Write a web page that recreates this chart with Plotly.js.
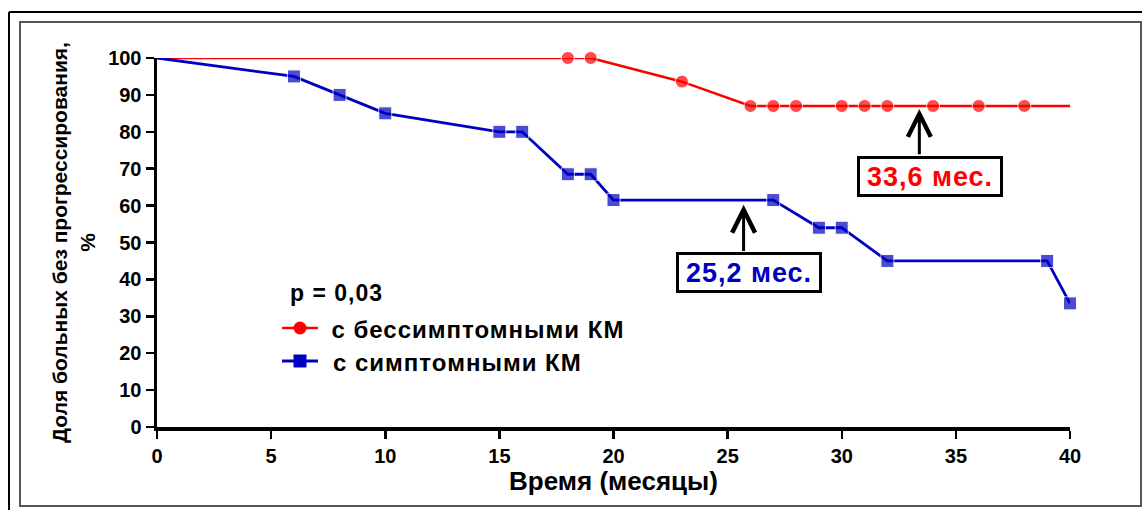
<!DOCTYPE html>
<html>
<head>
<meta charset="utf-8">
<script src="https://cdn.plot.ly/plotly-3.0.1.min.js"></script>
<style>
html,body{margin:0;padding:0;background:#fff;}
#chart{width:1142px;height:510px;}
#chart .annotation-text{letter-spacing:1px;}
</style>
</head>
<body>
<div id="chart"></div>
<script>
// Data
const redX = [0, 18, 19, 23, 26, 27, 28, 30, 31, 32, 34, 36, 38, 40];
const redY = [100, 100, 100, 93.6, 87, 87, 87, 87, 87, 87, 87, 87, 87, 87];
const redMarked = [false, true, true, true, true, true, true, true, true, true, true, true, true, false];
const blueX = [0, 6, 8, 10, 15, 16, 18, 19, 20, 27, 29, 30, 32, 39, 40];
const blueY = [100, 95, 90, 85, 80, 80, 68.5, 68.5, 61.5, 61.5, 54, 54, 45, 45, 33.5];
const blueMarked = [false, true, true, true, true, true, true, true, true, true, true, true, true, true, true];
const seriesNames = ["с бессимптомными КМ", "с симптомными КМ"];
const medianLabels = ["33,6 мес.", "25,2 мес."];
const pText = "p = 0,03";
const xTicks = [0, 5, 10, 15, 20, 25, 30, 35, 40];
const yTicks = [0, 10, 20, 30, 40, 50, 60, 70, 80, 90, 100];

const RED = "#ff0000", BLUE = "#0000c0";
const F = "Liberation Sans, Arial, sans-serif";

function sizes(m, s){ return m.map(v => v ? s : 0); }

const traces = [
  {x: redX, y: redY, name: seriesNames[0], mode: "lines+markers", cliponaxis: false,
   line: {color: RED, width: 2.6}, marker: {symbol: "circle", color: RED, size: sizes(redMarked, 13)}},
  {x: blueX, y: blueY, name: seriesNames[1], mode: "lines+markers", cliponaxis: false,
   line: {color: BLUE, width: 2.8}, marker: {symbol: "square", color: BLUE, size: sizes(blueMarked, 13)}}
];

const px = v => (v - 157) / 913;   // pixel x -> paper
const py = v => (427 - v) / 369;   // pixel y -> paper

const layout = {
  width: 1142, height: 510,
  margin: {l: 157, r: 72, t: 58, b: 83},
  paper_bgcolor: "#fff", plot_bgcolor: "#fff",
  showlegend: false,
  xaxis: {range: [0, 40], tickvals: xTicks, ticks: "outside", ticklen: 8, tickwidth: 2.5, tickcolor: "#000",
    showline: true, linecolor: "#000", linewidth: 3.5, showgrid: false, zeroline: false,
    tickfont: {family: F, size: 20, color: "#000", weight: "bold"},
    title: {text: "<b>Время (месяцы)</b>", font: {family: F, size: 26, color: "#000"}, standoff: 3}},
  yaxis: {range: [0, 100], tickvals: yTicks, ticks: "outside", ticklen: 8, tickwidth: 2.5, tickcolor: "#000",
    showline: true, linecolor: "#000", linewidth: 3.5, showgrid: false, zeroline: false,
    tickfont: {family: F, size: 20, color: "#000", weight: "bold"},
    title: {text: "<b>Доля больных без прогрессирования,<br>%</b>", font: {family: F, size: 21, color: "#000"}, standoff: 8}},
  shapes: [
    {type: "line", xref: "paper", yref: "paper", x0: px(9), x1: px(1150), y0: py(12), y1: py(12), line: {color: "#000", width: 2}},
    {type: "line", xref: "paper", yref: "paper", x0: px(9), x1: px(9), y0: py(12), y1: py(515), line: {color: "#000", width: 2}},
    {type: "rect", xref: "paper", yref: "paper", x0: px(20), x1: px(1141), y0: py(22), y1: py(506), line: {color: "#555", width: 2}},
    // legend samples
    {type: "line", xref: "paper", yref: "paper", x0: px(282), x1: px(318), y0: py(328), y1: py(328), line: {color: RED, width: 2.6}},
    {type: "circle", xref: "paper", yref: "paper", x0: px(293.5), x1: px(306.5), y0: py(334.5), y1: py(321.5), fillcolor: RED, line: {color: RED, width: 0}},
    {type: "line", xref: "paper", yref: "paper", x0: px(282), x1: px(318), y0: py(361), y1: py(361), line: {color: BLUE, width: 2.8}},
    {type: "rect", xref: "paper", yref: "paper", x0: px(293.5), x1: px(306.5), y0: py(367.5), y1: py(354.5), fillcolor: BLUE, line: {color: BLUE, width: 0}}
  ],
  annotations: [
    {text: "<b>" + pText + "</b>", xref: "paper", yref: "paper", x: px(292), y: py(293), xanchor: "left", yanchor: "middle", showarrow: false, font: {family: F, size: 23, color: "#000"}},
    {text: "<b>" + seriesNames[0] + "</b>", xref: "paper", yref: "paper", x: px(339), y: py(329), xanchor: "left", yanchor: "middle", showarrow: false, font: {family: F, size: 24, color: "#000"}},
    {text: "<b>" + seriesNames[1] + "</b>", xref: "paper", yref: "paper", x: px(339), y: py(362), xanchor: "left", yanchor: "middle", showarrow: false, font: {family: F, size: 24, color: "#000"}},
    // arrows
    {x: 33.4, y: 86.2, ax: 33.4, ay: 73.5, xref: "x", yref: "y", axref: "x", ayref: "y", text: "", showarrow: true, arrowhead: 5, arrowsize: 1.5, arrowwidth: 3, arrowcolor: "#000"},
    {x: 25.7, y: 60.2, ax: 25.7, ay: 47.3, xref: "x", yref: "y", axref: "x", ayref: "y", text: "", showarrow: true, arrowhead: 5, arrowsize: 1.5, arrowwidth: 3, arrowcolor: "#000"},
    // boxes
    {x: 33.86, y: 68.0, xref: "x", yref: "y", text: "<b>" + medianLabels[0] + "</b>", showarrow: false, font: {family: F, size: 27, color: RED},
     bgcolor: "#fff", bordercolor: "#000", borderwidth: 3, borderpad: 2, width: 136, height: 31},
    {x: 25.93, y: 42.0, xref: "x", yref: "y", text: "<b>" + medianLabels[1] + "</b>", showarrow: false, font: {family: F, size: 27, color: BLUE},
     bgcolor: "#fff", bordercolor: "#000", borderwidth: 3, borderpad: 2, width: 136, height: 31}
  ]
};

Plotly.newPlot("chart", traces, layout, {displayModeBar: false, staticPlot: true});
</script>
</body>
</html>
